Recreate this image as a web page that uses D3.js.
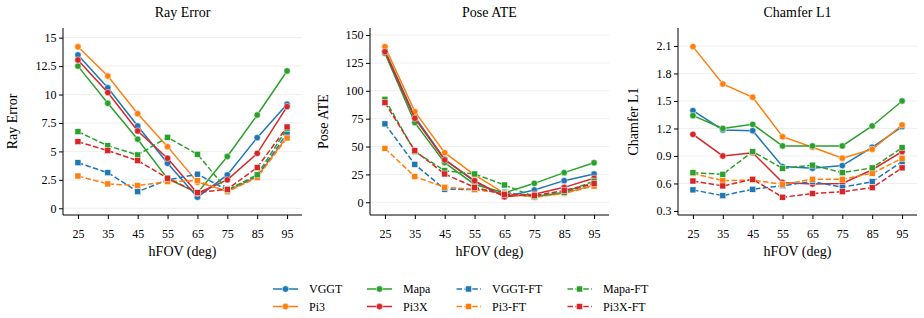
<!DOCTYPE html>
<html>
<head>
<meta charset="utf-8">
<script src="https://cdn.jsdelivr.net/npm/d3@7"></script>
<style>
  body { margin: 0; background: #fff; }
  svg { display: block; }
  svg text { font-family: "Liberation Serif", "DejaVu Serif", serif; fill: #000; }
</style>
</head>
<body>
<div id="chart"></div>
<script>
// x values shared by every panel
const hfov = [25, 35, 45, 55, 65, 75, 85, 95]

// series order: VGGT, Pi3, Mapa, Pi3X, VGGT-FT, Pi3-FT, Mapa-FT, Pi3X-FT
const seriesNames = ["VGGT", "Pi3", "Mapa", "Pi3X", "VGGT-FT", "Pi3-FT", "Mapa-FT", "Pi3X-FT"]
const seriesColors = ["#1f77b4", "#ff7f0e", "#2ca02c", "#d62728", "#1f77b4", "#ff7f0e", "#2ca02c", "#d62728"]
const seriesFT = [false, false, false, false, true, true, true, true]

const rayError = [
  [13.48, 10.6, 7.24, 3.96, 0.98, 2.94, 6.21, 9.14],
  [14.2, 11.63, 8.32, 5.42, 2.3, 1.5, 2.8, 6.3],
  [12.5, 9.23, 6.07, 2.6, 1.35, 4.55, 8.2, 12.07],
  [13.04, 10.17, 6.8, 4.4, 1.32, 2.5, 4.83, 8.94],
  [4.01, 3.13, 1.46, 2.5, 3.0, 1.6, 2.8, 6.6],
  [2.84, 2.14, 2.0, 2.35, 2.43, 1.45, 2.7, 6.18],
  [6.74, 5.5, 4.69, 6.24, 4.75, 1.6, 2.94, 7.0],
  [5.86, 5.07, 4.19, 2.65, 1.38, 1.67, 3.58, 7.15]
]
const poseATE = [
  [136, 76.8, 38.6, 18.5, 5, 11, 19.4, 25.4],
  [139.6, 81.3, 44.5, 24.5, 8, 5, 8, 15.5],
  [133.6, 71.4, 35.6, 16, 8.5, 17, 26.6, 35.5],
  [135, 75.3, 38, 19.4, 5, 7.2, 13.4, 21.5],
  [70.3, 34, 11.7, 11.5, 9, 5, 9, 17],
  [48.4, 23, 13.5, 11.5, 8, 4.5, 8, 14.5],
  [92.4, 45.4, 28.4, 25.4, 15.5, 5, 9, 19],
  [89.4, 46.3, 25.4, 13.4, 7, 6, 10.5, 17]
]
const chamferL1 = [
  [1.395, 1.184, 1.176, 0.784, 0.766, 0.795, 0.995, 1.22],
  [2.093, 1.685, 1.54, 1.11, 0.995, 0.875, 0.973, 1.238],
  [1.34, 1.2, 1.245, 1.01, 1.01, 1.01, 1.227, 1.5],
  [1.136, 0.9, 0.936, 0.61, 0.594, 0.6, 0.75, 0.947],
  [0.53, 0.467, 0.537, 0.576, 0.62, 0.558, 0.62, 0.838],
  [0.71, 0.63, 0.638, 0.59, 0.646, 0.646, 0.71, 0.875],
  [0.718, 0.7, 0.947, 0.765, 0.8, 0.718, 0.77, 0.99],
  [0.627, 0.573, 0.646, 0.45, 0.49, 0.51, 0.554, 0.77]
]

const rayTicks = [0, 2.5, 5, 7.5, 10, 12.5, 15]
const poseTicks = [0, 25, 50, 75, 100, 125, 150]
const chamferTicks = [0.3, 0.6, 0.9, 1.2, 1.5, 1.8, 2.1]

const panels = [
  {title: "Ray Error", data: rayError, ticks: rayTicks, fmt: d => String(d), yDomain: [-0.59, 15.85], left: 63, labelX: 16.5},
  {title: "Pose ATE", data: poseATE, ticks: poseTicks, fmt: d => String(d), yDomain: [-11.4, 156.3], left: 370, labelX: 327.5},
  {title: "Chamfer L1", data: chamferL1, ticks: chamferTicks, fmt: d3.format(".1f"), yDomain: [0.256, 2.296], left: 678, labelX: 637.5}
]

const W = 924, H = 318
const plotW = 239, plotTop = 28, plotBottom = 215

const svg = d3.select("#chart").append("svg")
  .attr("width", W)
  .attr("height", H)

function drawMarker(g, ft, color, x, y) {
  if (ft) {
    g.append("rect")
      .attr("x", x - 3).attr("y", y - 3)
      .attr("width", 6).attr("height", 6)
      .attr("fill", color)
      .attr("stroke", "#fff").attr("stroke-width", 0.5)
  } else {
    g.append("circle")
      .attr("cx", x).attr("cy", y).attr("r", 3.2)
      .attr("fill", color)
      .attr("stroke", "#fff").attr("stroke-width", 0.5)
  }
}

panels.forEach(p => {
  const x = d3.scaleLinear().domain([20, 100]).range([p.left, p.left + plotW])
  const y = d3.scaleLinear().domain(p.yDomain).range([plotBottom, plotTop])
  const g = svg.append("g")

  // grid
  g.selectAll(".grid")
    .data(p.ticks)
    .join("line")
    .attr("x1", p.left).attr("x2", p.left + plotW)
    .attr("y1", d => y(d)).attr("y2", d => y(d))
    .attr("stroke", "#ebebeb")
    .attr("stroke-width", 0.8)

  // y axis
  const yAxis = g.append("g")
    .attr("transform", `translate(${p.left},0)`)
    .call(d3.axisLeft(y).tickValues(p.ticks).tickFormat(p.fmt).tickSize(4).tickPadding(2.5))
  yAxis.select(".domain").attr("d", `M0,${plotTop}V${plotBottom}`).attr("stroke", "#000").attr("stroke-width", 1)
  yAxis.selectAll("text").style("font-size", "12px")

  // x axis
  const xAxis = g.append("g")
    .attr("transform", `translate(0,${plotBottom})`)
    .call(d3.axisBottom(x).tickValues(hfov).tickSize(4).tickPadding(10))
  xAxis.select(".domain").attr("d", `M${p.left},0H${p.left + plotW}`).attr("stroke", "#000").attr("stroke-width", 1)
  xAxis.selectAll("text").style("font-size", "12px")

  // series
  const line = d3.line().x((d, i) => x(hfov[i])).y(d => y(d))
  p.data.forEach((vals, s) => {
    const sg = g.append("g")
    sg.append("path")
      .datum(vals)
      .attr("fill", "none")
      .attr("stroke", seriesColors[s])
      .attr("stroke-width", 1.5)
      .attr("stroke-dasharray", seriesFT[s] ? "5.5,2.4" : null)
      .attr("d", line)
    vals.forEach((v, i) => drawMarker(sg, seriesFT[s], seriesColors[s], x(hfov[i]), y(v)))
  })

  // labels
  g.append("text")
    .attr("x", p.left + plotW / 2).attr("y", 17)
    .attr("text-anchor", "middle")
    .style("font-size", "14px")
    .text(p.title)
  g.append("text")
    .attr("x", p.left + plotW / 2).attr("y", 256)
    .attr("text-anchor", "middle")
    .style("font-size", "14px")
    .text("hFOV (deg)")
  g.append("text")
    .attr("transform", `translate(${p.labelX},${(plotTop + plotBottom) / 2}) rotate(-90)`)
    .attr("text-anchor", "middle")
    .style("font-size", "14px")
    .text(p.title)
})

// legend, 4 columns x 2 rows, column-major
const legendCols = [273, 367, 456, 567]
const legendRows = [289, 306.5]
const legend = svg.append("g")
seriesNames.forEach((name, s) => {
  const lx = legendCols[Math.floor(s / 2)]
  const ly = legendRows[s % 2]
  const lg = legend.append("g")
  lg.append("line")
    .attr("x1", lx).attr("x2", lx + 25)
    .attr("y1", ly).attr("y2", ly)
    .attr("stroke", seriesColors[s])
    .attr("stroke-width", 1.5)
    .attr("stroke-dasharray", seriesFT[s] ? "5.5,2.4" : null)
    .attr("stroke-dashoffset", seriesFT[s] ? -0.5 : null)
  drawMarker(lg, seriesFT[s], seriesColors[s], lx + 12.5, ly)
  lg.append("text")
    .attr("x", lx + 36).attr("y", ly)
    .attr("dy", "0.35em")
    .style("font-size", "12px")
    .text(name)
})
</script>
</body>
</html>
